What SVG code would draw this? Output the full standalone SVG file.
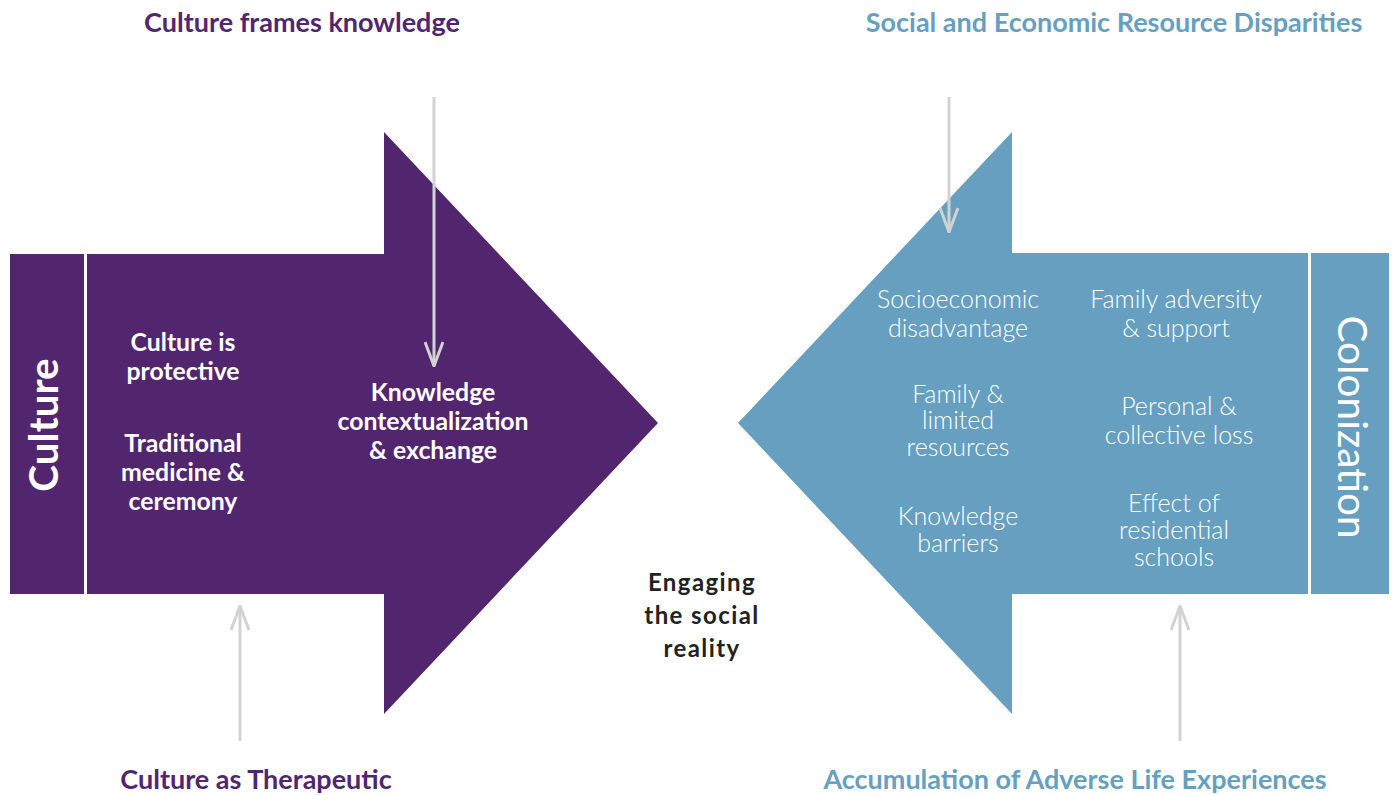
<svg xmlns="http://www.w3.org/2000/svg" width="1392" height="795" viewBox="0 0 1392 795">
<defs>
<style>
text{font-family:Lato,"Noto Sans","Liberation Sans",sans-serif;text-anchor:middle}
.title{font-size:27px;font-weight:700}
.pt{fill:#52266f}
.bt{fill:#669fc0}
.in{fill:#ffffff;font-size:24.8px;font-weight:700}
.lt{fill:#ffffff;font-size:25px;font-weight:300}
.mid{fill:#222222;font-size:24px;font-weight:700;letter-spacing:1.4px}
.conn{stroke:#d2d2d2;stroke-width:3;fill:none}
</style>
<marker id="chev" viewBox="0 0 26 20" refX="25" refY="10" markerWidth="26" markerHeight="20" markerUnits="userSpaceOnUse" orient="auto-start-reverse">
<path d="M1,1 L25,10 L1,19" stroke="#d2d2d2" stroke-width="3" fill="none"/>
</marker>
</defs>
<rect width="1392" height="795" fill="#ffffff"/>
<g id="culture-arrow">
<rect x="10" y="254" width="74" height="340" fill="#52266f"/>
<path d="M87,254 L384,254 L384,132 L658,423 L384,714 L384,594 L87,594 Z" fill="#52266f"/>
<text class="in" transform="translate(58,425) rotate(-90)" style="font-size:40.5px">Culture</text>
<text class="in" x="183" y="351">Culture is</text>
<text class="in" x="183" y="380">protective</text>
<text class="in" x="183" y="452">Traditional</text>
<text class="in" x="183" y="481">medicine &amp;</text>
<text class="in" x="183" y="510">ceremony</text>
<text class="in" x="433" y="401">Knowledge</text>
<text class="in" x="433" y="430">contextualization</text>
<text class="in" x="433" y="459">&amp; exchange</text>
</g>
<g id="colonization-arrow">
<rect x="1311" y="253" width="78" height="341" fill="#669fc0"/>
<path d="M1308,253 L1012,253 L1012,132 L738,423 L1012,714 L1012,594 L1308,594 Z" fill="#669fc0"/>
<text class="lt" transform="translate(1338,427) rotate(90)" style="font-size:40.5px;font-weight:400">Colonization</text>
<text class="lt" x="958" y="308">Socioeconomic</text>
<text class="lt" x="958" y="337">disadvantage</text>
<text class="lt" x="1176" y="308">Family adversity</text>
<text class="lt" x="1176" y="337">&amp; support</text>
<text class="lt" x="958" y="403">Family &amp;</text>
<text class="lt" x="958" y="429">limited</text>
<text class="lt" x="958" y="456">resources</text>
<text class="lt" x="1179" y="415">Personal &amp;</text>
<text class="lt" x="1179" y="444">collective loss</text>
<text class="lt" x="958" y="525">Knowledge</text>
<text class="lt" x="958" y="552">barriers</text>
<text class="lt" x="1174" y="512">Effect of</text>
<text class="lt" x="1174" y="539">residential</text>
<text class="lt" x="1174" y="566">schools</text>
</g>
<g id="center-label">
<text class="mid" x="702" y="591">Engaging</text>
<text class="mid" x="702" y="624">the social</text>
<text class="mid" x="702" y="657">reality</text>
</g>
<g id="culture-frames-knowledge"><text class="title pt" x="302" y="32">Culture frames knowledge</text></g>
<g id="social-economic"><text class="title bt" x="1114" y="32">Social and Economic Resource Disparities</text></g>
<g id="culture-therapeutic"><text class="title pt" x="256" y="789">Culture as Therapeutic</text></g>
<g id="adverse-life"><text class="title bt" x="1075" y="789">Accumulation of Adverse Life Experiences</text></g>
<g id="connectors">
<line class="conn" x1="434" y1="97" x2="434" y2="366" marker-end="url(#chev)"/>
<line class="conn" x1="949" y1="97" x2="949" y2="232" marker-end="url(#chev)"/>
<line class="conn" x1="240" y1="741" x2="240" y2="606" marker-end="url(#chev)"/>
<line class="conn" x1="1180" y1="741" x2="1180" y2="606" marker-end="url(#chev)"/>
</g>
</svg>
